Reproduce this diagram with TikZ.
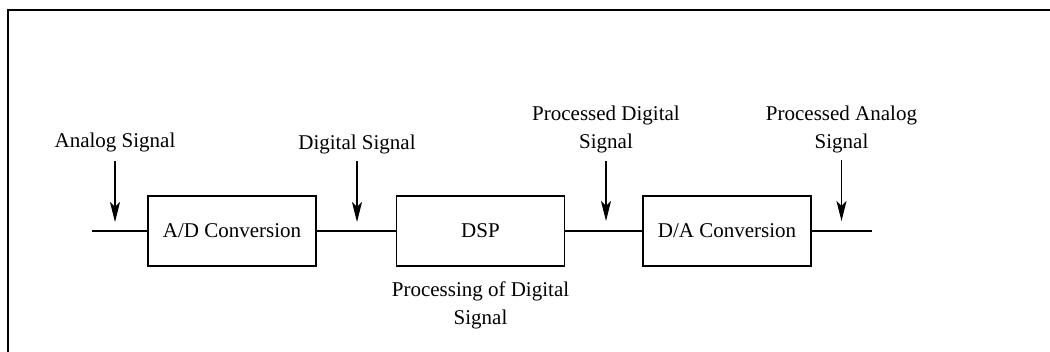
\documentclass[tikz,border=0pt]{standalone}
\usepackage{fontspec}
\setmainfont{Liberation Serif}
\usetikzlibrary{arrows.meta}
\tikzset{
  blockbox/.style={draw, line width=1.3pt, minimum width=168pt, minimum height=70pt,
    inner sep=0pt, font=\fontsize{21}{28}\selectfont},
  label/.style={inner sep=0pt, align=center, font=\fontsize{21}{28}\selectfont},
  signal/.style={line width=1.3pt},
  probe/.style={line width=1.2pt, -{Stealth[length=20pt, width=10pt, inset=5pt]}},
}
\begin{document}
\begin{tikzpicture}[x=1pt, y=-1pt]
  \useasboundingbox (0,0) rectangle (1050,351);
  % outer frame (top and left edges)
  \draw[line width=2pt] (7.5,352) -- (7.5,10) -- (1051,10);

  % processing chain
  \node[blockbox] (ad)  at (232,231)   {A/D Conversion};
  \node[blockbox] (dsp) at (480.5,231) {DSP};
  \node[blockbox] (da)  at (727,231)   {D/A Conversion};
  \coordinate (in)  at (92,231);
  \coordinate (out) at (872,231);
  \draw[signal] (in) -- (ad.west);
  \draw[signal] (ad.east) -- (dsp.west);
  \draw[signal] (dsp.east) -- (da.west);
  \draw[signal] (da.east) -- (out);

  % signal labels
  \node[label, anchor=base]  (lanalog) at (115,147)   {Analog Signal};
  \node[label, anchor=base]  (ldig)    at (357,149)   {Digital Signal};
  \node[label, anchor=south] (lpdig)   at (606,153.6) {Processed Digital\\Signal};
  \node[label, anchor=south] (lpana)   at (841.5,153.6) {Processed Analog\\Signal};
  \node[label, anchor=south] (lproc)   at (480.5,329.6) {Processing of Digital\\Signal};

  % probe arrows
  \coordinate (a1s) at (115,161);   \coordinate (a1e) at (115,222);
  \coordinate (a2s) at (357,161);   \coordinate (a2e) at (357,222);
  \coordinate (a3s) at (606,161);   \coordinate (a3e) at (606,221);
  \coordinate (a4s) at (841.5,160); \coordinate (a4e) at (841.5,221);
  \draw[probe] (a1s) -- (a1e);
  \draw[probe] (a2s) -- (a2e);
  \draw[probe] (a3s) -- (a3e);
  \draw[probe] (a4s) -- (a4e);
\end{tikzpicture}
\end{document}
